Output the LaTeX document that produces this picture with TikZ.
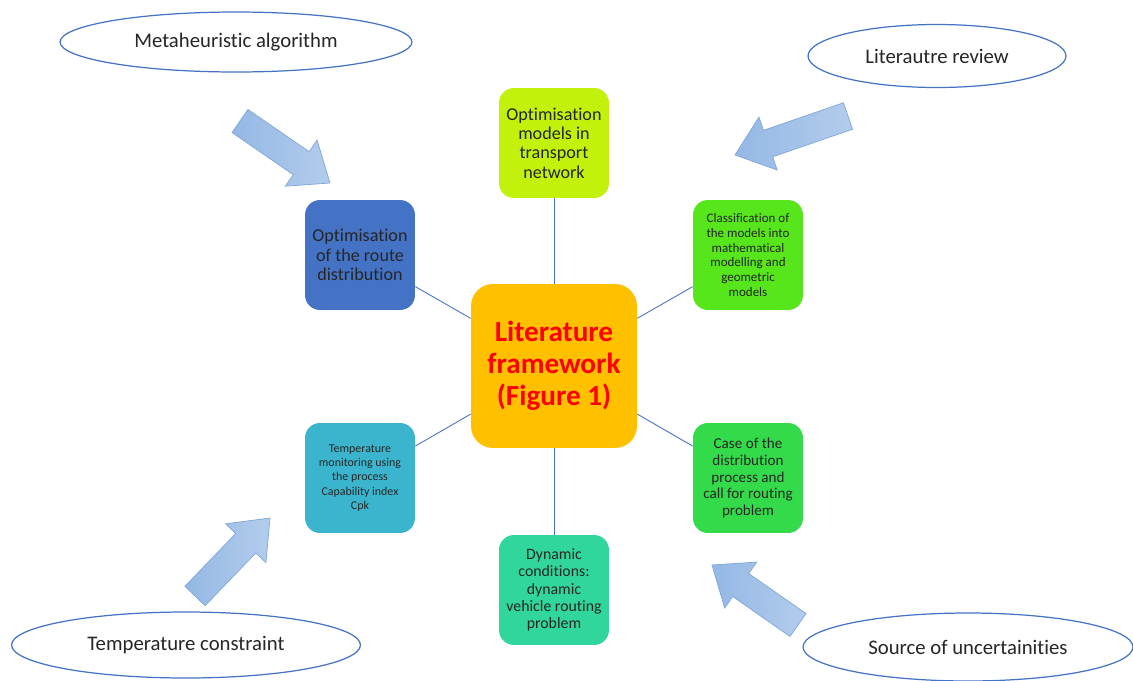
\documentclass[tikz,border=0pt]{standalone}
\usepackage{fontspec}
\setmainfont{Carlito}[Ligatures=NoCommon]
\usepackage{tikz}
\usetikzlibrary{shapes.geometric,calc}

\definecolor{linkblue}{HTML}{4472C4}
\definecolor{hubfill}{HTML}{FFC000}
\definecolor{limefill}{HTML}{C2F20C}
\definecolor{routefill}{HTML}{4472C4}
\definecolor{classfill}{HTML}{57E51B}
\definecolor{casefill}{HTML}{33DA4A}
\definecolor{dynfill}{HTML}{30D69B}
\definecolor{tempfill}{HTML}{3AB5CD}
\definecolor{arrowlight}{HTML}{B3CCEC}
\definecolor{arrowdark}{HTML}{94B8E4}
\definecolor{arrowedge}{HTML}{7EA6DC}

% fat block arrow from tail to tip
\newcommand{\blockarrow}[2]{%
  \coordinate (neck) at ($(#2)!0.7cm!(#1)$);
  \shadedraw[fatarrow] ($(#1)!0.28cm!90:(#2)$) -- ($(neck)!0.28cm!90:(#2)$)
    -- ($(neck)!0.56cm!90:(#2)$) -- (#2) -- ($(neck)!0.56cm!-90:(#2)$)
    -- ($(neck)!0.28cm!-90:(#2)$) -- ($(#1)!0.28cm!-90:(#2)$) -- cycle;
}

\begin{document}
\begin{tikzpicture}[x=0.02cm,y=-0.02cm,
  topic/.style={rounded corners=8.5pt, minimum width=2.2cm, minimum height=2.2cm,
    align=center, inner sep=2pt, text=black!85},
  source/.style={ellipse, draw=linkblue, line width=0.7pt, fill=white,
    font=\fontsize{11.8}{14}\selectfont, text=black!85},
  link/.style={linkblue, line width=0.5pt},
  fatarrow/.style={draw=arrowedge, line width=0.4pt, left color=arrowdark, right color=arrowlight}]
\useasboundingbox (0,0) rectangle (1133,680);

% central box
\node[topic, fill=hubfill, rounded corners=12.5pt, minimum width=3.32cm, minimum height=3.28cm,
  text=red, font=\fontsize{16.6}{18.2}\selectfont\bfseries] (hub) at (554,366)
  {Literature\\framework\\(Figure 1)};

% surrounding topics
\node[topic, fill=limefill, font=\fontsize{10.3}{11}\selectfont] (models) at (554,143)
  {Optimisation\\models in\\transport\\network};
\node[topic, fill=routefill, font=\fontsize{10.3}{11}\selectfont] (route) at (360,255)
  {Optimisation\\of the route\\distribution};
\node[topic, fill=classfill, font=\fontsize{7.4}{8.5}\selectfont] (classif) at (748,255)
  {Classification of\\the models into\\mathematical\\modelling and\\geometric\\models};
\node[topic, fill=tempfill, font=\fontsize{6.8}{8.2}\selectfont] (monitor) at (360,478)
  {Temperature\\monitoring using\\the process\\Capability index\\Cpk};
\node[topic, fill=casefill, font=\fontsize{8.6}{9.5}\selectfont] (case) at (748,478)
  {Case of the\\distribution\\process and\\call for routing\\problem};
\node[topic, fill=dynfill, font=\fontsize{9}{9.9}\selectfont] (dynamic) at (554,590)
  {Dynamic\\conditions:\\dynamic\\vehicle routing\\problem};

% links to the hub
\foreach \n in {models,route,classif,monitor,case,dynamic}
  \draw[link] (hub) -- (\n);

% sources
\node[source, minimum width=7.04cm, minimum height=1.2cm] (meta) at (236,42) {Metaheuristic algorithm};
\node[source, minimum width=5.16cm, minimum height=1.26cm] (review) at (937,56) {Literautre review};
\node[source, minimum width=6.98cm, minimum height=1.32cm] (tempc) at (186,645) {Temperature constraint};
\node[source, minimum width=6.6cm, minimum height=1.36cm] (uncert) at (968,647) {Source of uncertainities};

% block arrows
\coordinate (mhtail) at (240,121);
\coordinate (mhtip) at (330,183);
\coordinate (lrtail) at (848,116);
\coordinate (lrtip) at (735,155);
\coordinate (tctail) at (195,596);
\coordinate (tctip) at (270,518);
\coordinate (sutail) at (798,625);
\coordinate (sutip) at (712,565);
\blockarrow{mhtail}{mhtip}
\blockarrow{lrtail}{lrtip}
\blockarrow{tctail}{tctip}
\blockarrow{sutail}{sutip}
\end{tikzpicture}
\end{document}
